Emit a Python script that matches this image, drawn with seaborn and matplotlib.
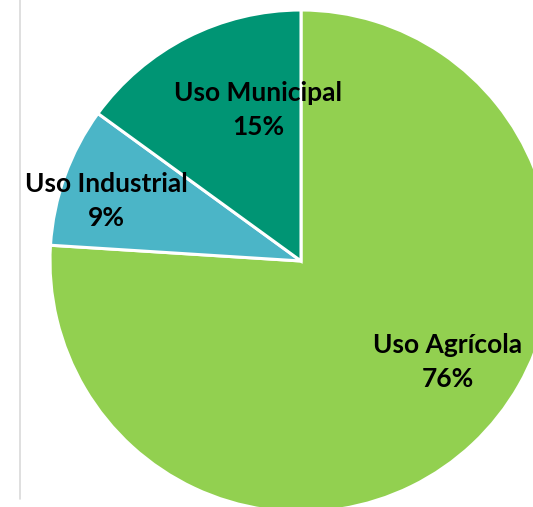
import matplotlib
matplotlib.use("Agg")
import matplotlib.pyplot as plt
import seaborn as sns
from matplotlib.lines import Line2D

categories = ["Uso Agrícola", "Uso Industrial", "Uso Municipal"]
values = [76, 9, 15]
colors = ["#92D050", "#4BB5C7", "#009574"]

# label anchor positions (pixel coordinates, origin top-left)
label_pos = [(448, 362), (106, 201), (258, 110)]

sns.set_theme(style="white")
plt.rcParams['font.family'] = ['Lato', 'DejaVu Sans']

W, H = 533, 507
fig = plt.figure(figsize=(W / 100, H / 100), dpi=100)
ax = fig.add_axes([0, 0, 1, 1])

wedges, _ = ax.pie(values, colors=colors, startangle=90, counterclock=False,
                   center=(301, H - 261), radius=251, frame=False,
                   wedgeprops=dict(edgecolor="white", linewidth=2.2))
ax.set_xlim(0, W)
ax.set_ylim(0, H)
ax.set_aspect("equal")
ax.axis("off")

for cat, v, (x, y) in zip(categories, values, label_pos):
    ax.text(x, H - y, f"{cat}\n{v}%", ha="center", va="center", fontsize=19,
            fontweight="bold", color="black", linespacing=1.5)

ax.add_line(Line2D([20, 20], [H, H - 499], color="#D9D9D9", linewidth=1.2))

fig.savefig("out.png", dpi=100)
